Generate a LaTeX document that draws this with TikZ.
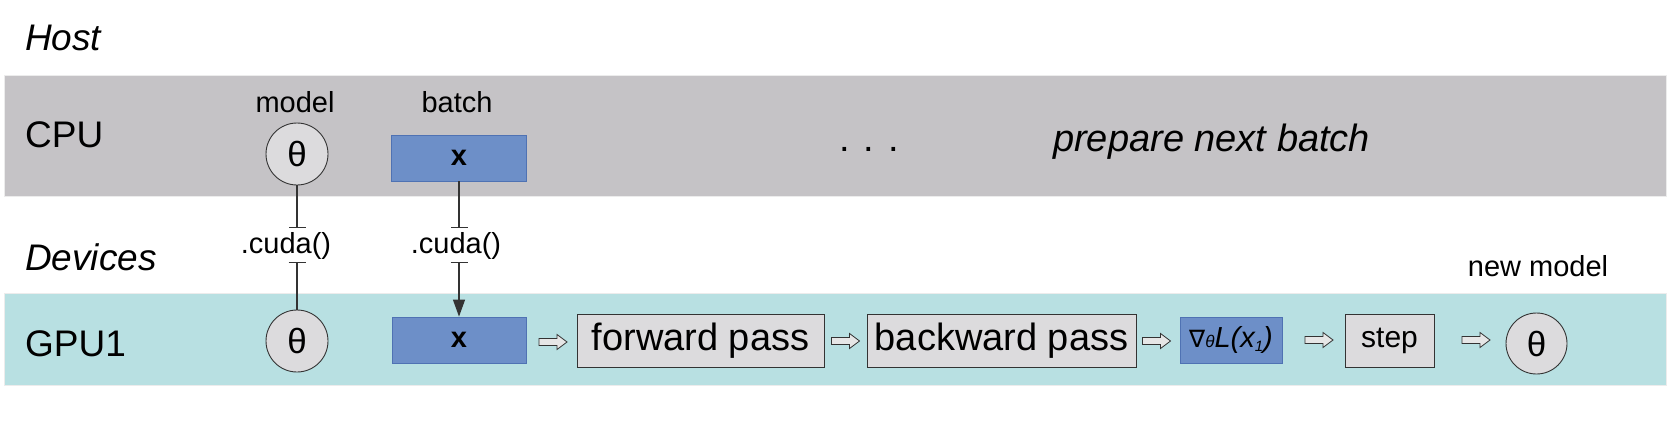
\documentclass[tikz,border=0pt]{standalone}
\usepackage{fontspec}
\setmainfont{Liberation Sans}
\newfontfamily\dejavu{DejaVu Sans}
\usetikzlibrary{arrows.meta}
\definecolor{cpugray}{HTML}{C5C3C6}
\definecolor{gpucyan}{HTML}{B8E0E2}
\definecolor{boxblue}{HTML}{6D8FC8}
\definecolor{boxblueedge}{HTML}{4F72B3}
\definecolor{boxgray}{HTML}{DCDBDD}
\definecolor{edgegray}{HTML}{333333}
\definecolor{arrowfill}{HTML}{E6E6E6}
\begin{document}
\begin{tikzpicture}[x=1pt,y=-1pt,
  biglbl/.style={font=\fontsize{37}{37}\selectfont, inner sep=0, anchor=base west},
  smalllbl/.style={font=\fontsize{29}{29}\selectfont, inner sep=0, anchor=base},
  band/.style={draw=gray!15, line width=1pt},
  graybox/.style={draw=edgegray, line width=1pt, fill=boxgray, inner sep=0, minimum height=53pt, font=\fontsize{38}{38}\selectfont},
  bluebox/.style={draw=boxblueedge, line width=0.8pt, fill=boxblue, inner sep=0, minimum height=46pt},
  paramcirc/.style={circle, draw=edgegray, line width=0.9pt, fill=boxgray, inner sep=0, minimum size=62pt, font=\fontsize{35}{35}\selectfont},
  harrowline/.style={draw=edgegray, line width=0.8pt, fill=arrowfill, line join=miter},
  hollowarrow/.pic={\path[harrowline] (-14,-3.5) -- (4,-3.5) -- (4,-7.5) -- (14,0) -- (4,7.5) -- (4,3.5) -- (-14,3.5) -- cycle;},
  link/.style={draw=edgegray, line width=1.2pt},
]
\useasboundingbox (0,0) rectangle (1678,442);
% bands
\path[band, fill=cpugray] (4,75) rectangle (1666,196);
\path[band, fill=gpucyan] (4,293) rectangle (1666,385);
% row labels
\node[biglbl, font=\fontsize{37}{37}\selectfont\itshape] (host) at (25,50) {Host};
\node[biglbl] (cpu) at (25,147) {CPU};
\node[biglbl, font=\fontsize{37}{37}\selectfont\itshape] (devices) at (25,270) {Devices};
\node[biglbl] (gpu) at (25,356) {GPU1};
% CPU row
\node[smalllbl] (modellbl) at (295,112) {model};
\node[smalllbl] (batchlbl) at (457,112) {batch};
\node[paramcirc] (theta1) at (297,154) {θ};
\node[bluebox, minimum width=135pt, font=\fontsize{29}{29}\selectfont\bfseries] (x1) at (459,158) {x};
\node[biglbl, font=\fontsize{38}{38}\selectfont] (dots) at (839,151) {. . .};
\node[biglbl, font=\fontsize{38}{38}\selectfont\itshape] (prep) at (1053,151) {prepare next batch};
% GPU row
\node[paramcirc] (theta2) at (297,341) {θ};
\node[bluebox, minimum width=134pt, font=\fontsize{29}{29}\selectfont\bfseries] (x2) at (459,340) {x};
\node[graybox, minimum width=247pt] (fwd) at (700.5,340.5) {forward pass};
\node[graybox, minimum width=269pt] (bwd) at (1001.5,340.5) {backward pass};
\node[bluebox, minimum width=102pt, font=\fontsize{29}{29}\selectfont] (grad) at (1231,340)
  {{\dejavu\fontsize{24}{24}\selectfont ∇}{\itshape\fontsize{17}{17}\selectfont θ}{\itshape L(x\raisebox{-4pt}{\fontsize{15}{15}\selectfont 1})}};
\node[graybox, minimum width=89pt, font=\fontsize{30}{30}\selectfont] (step1) at (1389.5,340.5) {step};
\node[paramcirc, minimum size=61pt] (theta3) at (1536.5,343.5) {θ};
\node[smalllbl] (newlbl) at (1538,276) {new model};
% hollow arrows
\pic at (553,342) {hollowarrow};
\pic at (845.5,341) {hollowarrow};
\pic at (1156.5,341) {hollowarrow};
\pic at (1319,340) {hollowarrow};
\pic at (1476,340) {hollowarrow};
% .cuda() transfers
\node[smalllbl] (cudam) at (286,253) {.cuda()};
\node[smalllbl] (cudab) at (456,253) {.cuda()};
\coordinate (mtop) at (297,228);
\coordinate (mbot) at (297,262);
\coordinate (btop) at (459,228);
\coordinate (bbot) at (459,262);
\draw[link, -{Bar[width=17pt]}] (theta1.south) -- (mtop);
\draw[link, {Bar[width=17pt]}-] (mbot) -- (theta2.north);
\draw[link, -{Bar[width=17pt]}] (x1.south) -- (btop);
\draw[link, {Bar[width=17pt]}-{Triangle[length=17pt,width=12pt]}] (bbot) -- (x2.north);
\end{tikzpicture}
\end{document}
